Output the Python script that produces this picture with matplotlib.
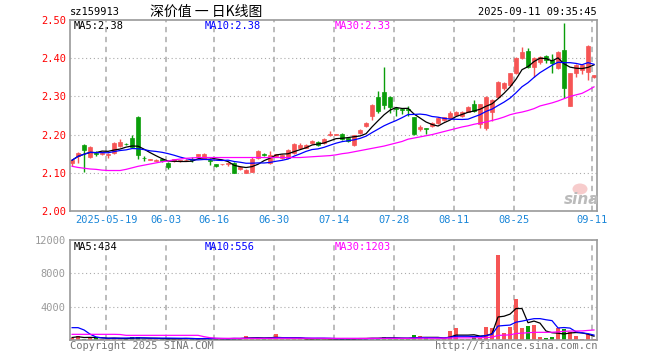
import numpy as np
import pandas as pd
import matplotlib
matplotlib.use('Agg')
import matplotlib.pyplot as plt
from matplotlib.patches import Ellipse

plt.rcParams['font.family'] = ['DejaVu Sans Mono', 'Noto Sans CJK SC']

# daily K data (88 trading days)
opens = [2.125, 2.145, 2.173, 2.142, 2.152, 2.148, 2.146, 2.153, 2.171, 2.176,
         2.190, 2.247, 2.139, 2.134, 2.132, 2.137, 2.126, 2.131, 2.131, 2.133,
         2.136, 2.144, 2.140, 2.134, 2.123, 2.122, 2.124, 2.126, 2.110, 2.100,
         2.103, 2.138, 2.149, 2.125, 2.143, 2.138, 2.140, 2.151, 2.166, 2.166,
         2.177, 2.181, 2.177, 2.200, 2.199, 2.202, 2.190, 2.173, 2.203, 2.222,
         2.249, 2.299, 2.312, 2.299, 2.269, 2.268, 2.268, 2.245, 2.214, 2.216,
         2.222, 2.230, 2.238, 2.243, 2.251, 2.249, 2.260, 2.280, 2.227, 2.217,
         2.260, 2.299, 2.321, 2.330, 2.360, 2.400, 2.419, 2.378, 2.391, 2.407,
         2.395, 2.374, 2.421, 2.276, 2.360, 2.369, 2.365, 2.351]
highs = [2.136, 2.154, 2.175, 2.170, 2.158, 2.154, 2.152, 2.181, 2.188, 2.177,
         2.199, 2.248, 2.143, 2.137, 2.135, 2.138, 2.127, 2.137, 2.134, 2.136,
         2.142, 2.150, 2.151, 2.140, 2.124, 2.124, 2.128, 2.128, 2.117, 2.110,
         2.142, 2.160, 2.153, 2.157, 2.150, 2.149, 2.162, 2.177, 2.178, 2.176,
         2.185, 2.182, 2.190, 2.209, 2.202, 2.203, 2.191, 2.200, 2.214, 2.233,
         2.279, 2.314, 2.376, 2.301, 2.271, 2.270, 2.276, 2.247, 2.224, 2.217,
         2.232, 2.246, 2.247, 2.262, 2.262, 2.261, 2.274, 2.291, 2.281, 2.300,
         2.292, 2.340, 2.337, 2.362, 2.403, 2.430, 2.426, 2.402, 2.406, 2.408,
         2.410, 2.418, 2.491, 2.362, 2.384, 2.384, 2.434, 2.357]
lows = [2.118, 2.125, 2.103, 2.140, 2.144, 2.146, 2.140, 2.150, 2.168, 2.174,
        2.166, 2.135, 2.132, 2.133, 2.130, 2.128, 2.111, 2.129, 2.128, 2.131,
        2.128, 2.142, 2.138, 2.120, 2.114, 2.121, 2.118, 2.099, 2.108, 2.099,
        2.101, 2.136, 2.145, 2.123, 2.141, 2.136, 2.138, 2.149, 2.163, 2.164,
        2.175, 2.171, 2.175, 2.196, 2.198, 2.186, 2.180, 2.170, 2.201, 2.220,
        2.238, 2.257, 2.266, 2.256, 2.250, 2.255, 2.250, 2.200, 2.210, 2.202,
        2.220, 2.228, 2.236, 2.241, 2.249, 2.246, 2.258, 2.260, 2.217, 2.213,
        2.235, 2.297, 2.318, 2.326, 2.358, 2.398, 2.374, 2.352, 2.386, 2.388,
        2.360, 2.372, 2.295, 2.274, 2.352, 2.358, 2.343, 2.349]
closes = [2.133, 2.153, 2.160, 2.168, 2.150, 2.153, 2.150, 2.177, 2.181, 2.175,
          2.168, 2.147, 2.138, 2.136, 2.134, 2.130, 2.116, 2.135, 2.133, 2.134,
          2.134, 2.148, 2.149, 2.132, 2.118, 2.123, 2.125, 2.100, 2.114, 2.107,
          2.135, 2.156, 2.147, 2.147, 2.148, 2.147, 2.160, 2.175, 2.173, 2.173,
          2.183, 2.173, 2.188, 2.202, 2.201, 2.188, 2.182, 2.199, 2.212, 2.231,
          2.277, 2.262, 2.277, 2.273, 2.266, 2.264, 2.264, 2.202, 2.221, 2.214,
          2.231, 2.244, 2.245, 2.256, 2.260, 2.259, 2.272, 2.262, 2.279, 2.299,
          2.291, 2.338, 2.334, 2.360, 2.401, 2.417, 2.378, 2.400, 2.404, 2.396,
          2.387, 2.417, 2.323, 2.360, 2.382, 2.382, 2.433, 2.356]
volumes = [300, 480, 120, 360, 240, 150, 150, 250, 200, 100,
           360, 360, 150, 100, 100, 200, 240, 120, 120, 240,
           150, 150, 200, 150, 200, 120, 120, 300, 120, 480,
           300, 200, 150, 250, 680, 150, 120, 150, 200, 150,
           150, 200, 150, 100, 150, 150, 200, 150, 200, 200,
           300, 200, 360, 250, 150, 150, 150, 600, 480, 200,
           150, 150, 150, 1080, 1400, 150, 150, 360, 300, 1560,
           1400, 10200, 800, 1560, 4920, 1400, 1680, 1800, 320, 200,
           360, 1400, 1320, 920, 480, 120, 680, 100]
# averages that reach back before the window
ma30 = [2.117, 2.114, 2.112, 2.110, 2.109, 2.107, 2.106, 2.106, 2.106, 2.109,
        2.113, 2.117, 2.120, 2.123, 2.126, 2.129, 2.131, 2.134, 2.136, 2.138,
        2.139, 2.140, 2.140, 2.140, 2.140, 2.140, 2.140, 2.140, 2.140, 2.140,
        2.140, 2.140, 2.140, 2.140, 2.140, 2.140, 2.140, 2.140, 2.140, 2.141,
        2.142, 2.143, 2.144, 2.145, 2.147, 2.150, 2.152, 2.155, 2.158, 2.161,
        2.164, 2.167, 2.170, 2.174, 2.178, 2.182, 2.188, 2.191, 2.194, 2.197,
        2.200, 2.204, 2.208, 2.212, 2.216, 2.220, 2.223, 2.227, 2.230, 2.233,
        2.237, 2.241, 2.246, 2.252, 2.256, 2.259, 2.263, 2.268, 2.275, 2.279,
        2.283, 2.288, 2.294, 2.300, 2.304, 2.308, 2.316, 2.325]
vol_ma10 = [1480, 1480, 1200, 700, 360, 250, 220, 220, 220, 235,
            240, 250, 250, 230, 210, 220, 230, 220, 210, 200,
            180, 160, 170, 175, 185, 175, 165, 180, 180, 200,
            215, 220, 215, 225, 270, 270, 270, 255, 260, 235,
            220, 220, 220, 205, 170, 170, 175, 175, 175, 165,
            180, 180, 200, 215, 215, 215, 210, 255, 290, 285,
            270, 265, 245, 325, 450, 450, 450, 425, 410, 545,
            670, 1675, 1740, 1790, 2140, 2265, 2420, 2560, 2565, 2430,
            2325, 1445, 1495, 1430, 990, 860, 760, 590]
vol_ma30 = [680, 680, 680, 680, 680, 680, 680, 680, 660, 560,
            560, 560, 560, 560, 560, 560, 560, 560, 560, 560,
            560, 560, 400, 280, 210, 200, 200, 200, 200, 200,
            200, 200, 200, 205, 210, 210, 210, 210, 210, 210,
            210, 210, 205, 200, 200, 200, 195, 195, 195, 195,
            200, 200, 200, 200, 200, 200, 200, 210, 215, 215,
            215, 215, 215, 240, 260, 260, 260, 265, 270, 300,
            330, 550, 580, 620, 780, 820, 870, 920, 920, 920,
            930, 975, 1040, 1070, 1080, 1090, 1150, 1203]

tick_idx = [5, 15, 23, 33, 43, 53, 63, 73, 86]
tick_labels = ['2025-05-19', '06-03', '06-16', '06-30', '07-14',
               '07-28', '08-11', '08-25', '09-11']

RED = '#f65555'
GREEN = '#0a9e0a'
GRID = '#aaaaaa'
BORDER = '#999999'

o = np.array(opens); h = np.array(highs); l = np.array(lows); c = np.array(closes)
x = np.arange(len(c))
cols = np.where(c >= o, RED, GREEN)
ma5 = pd.Series(c).rolling(5, min_periods=1).mean()
ma10 = pd.Series(c).rolling(10, min_periods=1).mean()
vol_ma5 = pd.Series(volumes).rolling(5, min_periods=1).mean()

W, H = 660, 360
fig = plt.figure(figsize=(6.6, 3.6), dpi=100)
ax1 = fig.add_axes([70 / W, 1 - 211 / H, 527 / W, 191 / H])
ax2 = fig.add_axes([70 / W, 1 - 340 / H, 527 / W, 100 / H])

for ax in (ax1, ax2):
    ax.set_xlim(-0.35, 87.5)
    for s in ax.spines.values():
        s.set_color(BORDER)
        s.set_linewidth(1.2)
    ax.tick_params(length=0)
    for t in tick_idx:
        ax.axvline(t + 0.7, color=GRID, lw=1.1, dashes=(3.5, 3), zorder=0)

# price panel
ax1.set_ylim(2.0, 2.5)
for yv in [2.1, 2.2, 2.3, 2.4]:
    ax1.axhline(yv, color=GRID, lw=0.8, dashes=(1, 2.5), zorder=0)
ax1.vlines(x, l, h, colors=cols, lw=1, zorder=2)
ax1.bar(x, np.maximum(np.abs(c - o), 0.001), bottom=np.minimum(o, c), width=0.72,
        color=cols, edgecolor=cols, linewidth=0.5, zorder=2)
ax1.plot(x, ma5, color='black', lw=0.9, zorder=3)
ax1.plot(x, ma10, color='#0000ff', lw=0.9, zorder=3)
ax1.plot(x, ma30, color='#ff00ff', lw=0.9, zorder=3)
ax1.set_yticks([2.0, 2.1, 2.2, 2.3, 2.4, 2.5])
ax1.set_yticklabels(['2.00', '2.10', '2.20', '2.30', '2.40', '2.50'], color='red', fontsize=7.5)
ax1.set_xticks([t + 0.7 for t in tick_idx])
ax1.set_xticklabels(tick_labels, color='#1a86d8', fontsize=7.5)
ax1.tick_params(axis='y', pad=3)
ax1.tick_params(axis='x', pad=3)

# volume panel
ax2.set_ylim(0, 12000)
for yv in [4000, 8000]:
    ax2.axhline(yv, color=GRID, lw=0.8, dashes=(1, 2.5), zorder=0)
ax2.bar(x, volumes, width=0.72, color=cols, linewidth=0, zorder=2)
ax2.plot(x, vol_ma5, color='black', lw=0.9, zorder=3)
ax2.plot(x, vol_ma10, color='#0000ff', lw=0.9, zorder=3)
ax2.plot(x, vol_ma30, color='#ff00ff', lw=0.9, zorder=3)
ax2.set_yticks([4000, 8000, 12000])
ax2.set_yticklabels(['4000', '8000', '12000'], color='#999999', fontsize=7.5)
ax2.set_xticks([t + 0.7 for t in tick_idx])
ax2.set_xticklabels([])
ax2.tick_params(axis='y', pad=3)

def ftext(px, py, s, **kw):
    fig.text(px / W, 1 - py / H, s, va='center', **kw)

ftext(70, 12, 'sz159913', fontsize=7.5, color='black')
ftext(150, 12, '深价值 一 日K线图', fontsize=10, color='black', family=['Noto Sans CJK SC'])
ftext(597, 12, '2025-09-11 09:35:45', fontsize=7.5, ha='right', color='black')

ftext(74, 26, 'MA5:%.2f' % ma5.iloc[-1], fontsize=7.5, color='black')
ftext(205, 26, 'MA10:%.2f' % ma10.iloc[-1], fontsize=7.5, color='#0000ff')
ftext(335, 26, 'MA30:%.2f' % ma30[-1], fontsize=7.5, color='#ff00ff')
ftext(74, 247, 'MA5:434', fontsize=7.5, color='black')
ftext(205, 247, 'MA10:556', fontsize=7.5, color='#0000ff')
ftext(335, 247, 'MA30:1203', fontsize=7.5, color='#ff00ff')

ftext(70, 346, 'Copyright 2025 SINA.COM', fontsize=7.5, color='#777777')
ftext(597, 346, 'http://finance.sina.com.cn', fontsize=7.5, ha='right', color='#777777')

# sina watermark
fig.patches.append(Ellipse((580 / W, 1 - 189 / H), 15 / W, 11 / H, transform=fig.transFigure,
                           facecolor='#f7cccc', edgecolor='none', zorder=5))
ftext(582, 200, 'sina', fontsize=11, ha='center', color='#bbbbbb',
      family=['DejaVu Sans'], fontweight='bold', style='italic', zorder=6)

fig.savefig('out.png', dpi=100)
